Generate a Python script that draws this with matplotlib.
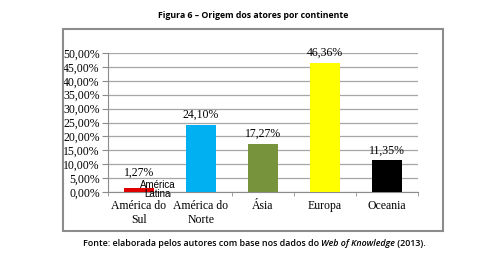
import numpy as np
import matplotlib as mpl
mpl.use('Agg')
import matplotlib.pyplot as plt
from matplotlib.patches import Rectangle

# data
categorias = ['América do\nSul', 'América do\nNorte', 'Ásia', 'Europa', 'Oceania']
valores = [1.27, 24.10, 17.27, 46.36, 11.35]
rotulos = ['1,27%', '24,10%', '17,27%', '46,36%', '11,35%']
cores = ['#E00000', '#00B0F0', '#77933C', '#FFFF00', '#000000']
yticks = np.arange(0, 50.1, 5)
ytick_labels = [('%.2f%%' % v).replace('.', ',') for v in yticks]

serif = 'Liberation Serif'
sans = 'Open Sans'

fig = plt.figure(figsize=(5.03, 2.62), dpi=100)
fig.patch.set_facecolor('white')

# moldura do grafico
fig.patches.append(Rectangle((63 / 503, 1 - 231 / 262), 380 / 503, 202 / 262,
                             transform=fig.transFigure, fill=False,
                             edgecolor='#8c8c8c', linewidth=1.5))

ax = fig.add_axes([108 / 503, 1 - 192 / 262, 310 / 503, 139 / 262])
x = np.arange(len(categorias))
ax.bar(x, valores, width=0.48, color=cores, zorder=3)

for i, (xi, v, r) in enumerate(zip(x, valores, rotulos)):
    dy = 7 if i == 0 else 3  # o rotulo pequeno fica um pouco mais alto
    ax.annotate(r, (xi, v), xytext=(0, dy), textcoords='offset points',
                ha='center', va='bottom', fontsize=8.5, family=serif,
                clip_on=False)

ax.text(0.3, 0.9, 'América\nLatina', ha='center', va='center',
        fontsize=7.0, family='Liberation Sans', linespacing=0.95, zorder=4)

ax.set_xlim(-0.5, 4.5)
ax.set_ylim(0, 50)
ax.set_yticks(yticks)
ax.set_yticklabels(ytick_labels, family=serif, fontsize=8.5)
ax.set_xticks(x)
ax.set_xticklabels(categorias, family=serif, fontsize=8.5, linespacing=1.2)
ax.set_xticks(np.arange(-0.5, 4.6, 1), minor=True)
ax.tick_params(axis='x', which='major', length=0, pad=6)
ax.tick_params(axis='x', which='minor', length=3, color='#8c8c8c')
ax.tick_params(axis='y', length=4, color='#8c8c8c', pad=2)
ax.grid(axis='y', color='#a6a6a6', linewidth=0.9, zorder=0)
for s in ['top', 'right']:
    ax.spines[s].set_visible(False)
for s in ['left', 'bottom']:
    ax.spines[s].set_color('#8c8c8c')

fig.text(253 / 503, 1 - 16 / 262, 'Figura 6 – Origem dos atores por continente',
         ha='center', va='center', fontsize=6.3, family=sans, weight='bold')

t1 = fig.text(83 / 503, 1 - 244 / 262, 'Fonte: elaborada pelos autores com base nos dados do ',
              ha='left', va='center', fontsize=6.4, family=sans, weight='semibold')
t2 = ax.annotate('Web of Knowledge', xy=(1, 0), xycoords=t1, va='bottom',
                 fontsize=6.4, family=sans, style='italic', weight='semibold',
                 annotation_clip=False)
ax.annotate(' (2013).', xy=(1, 0), xycoords=t2, va='bottom', fontsize=6.4,
            family=sans, weight='semibold', annotation_clip=False)

fig.savefig('out.png', dpi=100)
